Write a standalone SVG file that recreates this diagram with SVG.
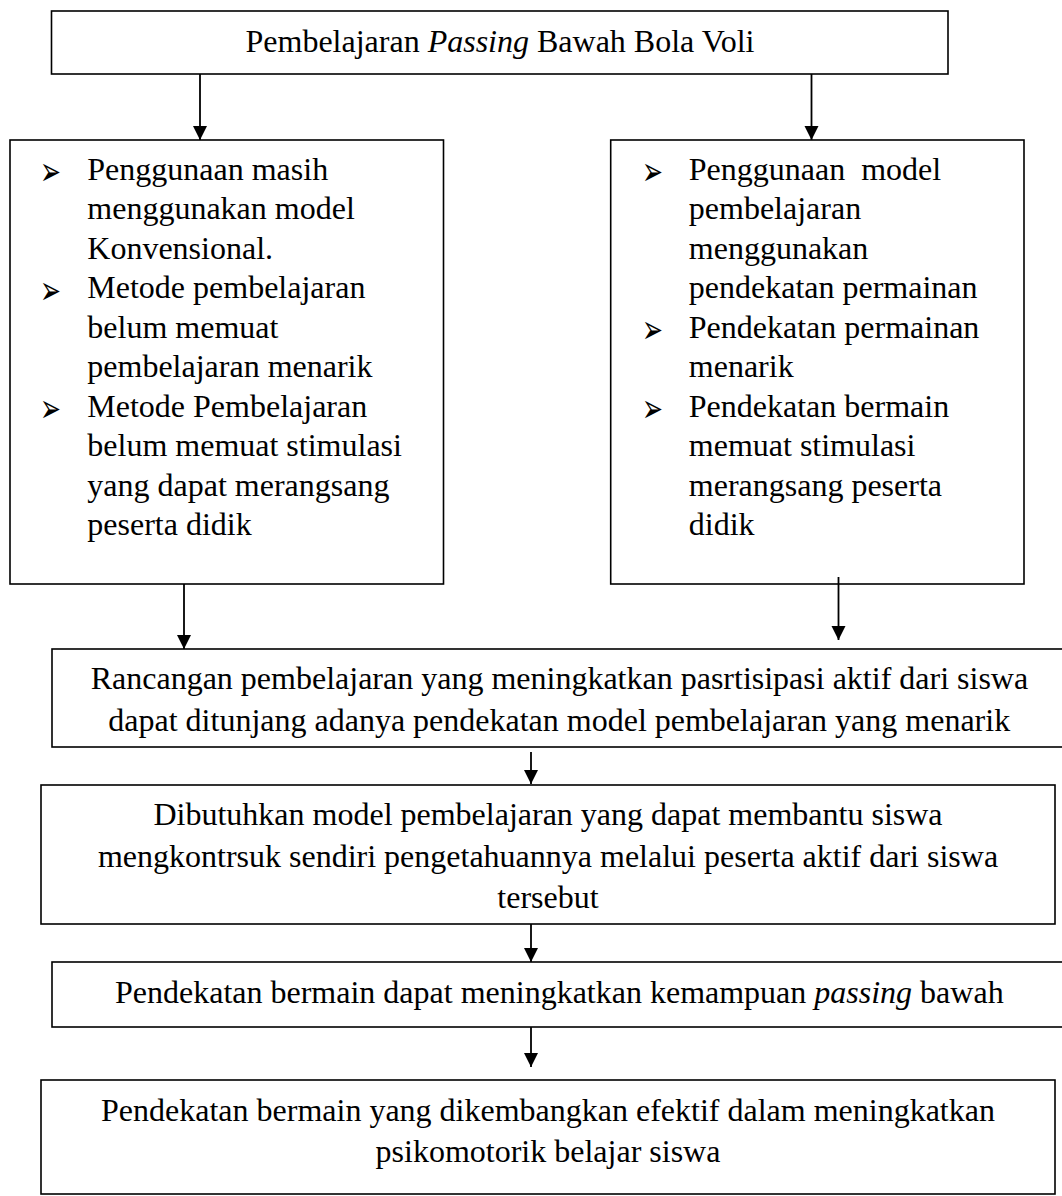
<svg xmlns="http://www.w3.org/2000/svg" width="1062" height="1196" viewBox="0 0 1062 1196">
<style>
.box{fill:#fff;stroke:#000;stroke-width:1.6}
.t{font-family:"Liberation Serif","Times New Roman",serif;font-size:32px;fill:#000}
.c{text-anchor:middle}
.b{font-family:"DejaVu Sans",sans-serif;font-size:25px;fill:#000}
.conn{stroke:#000;stroke-width:1.8;fill:none;marker-end:url(#ah)}
</style>
<defs>
<marker id="ah" markerUnits="userSpaceOnUse" markerWidth="14" markerHeight="15" refX="14" refY="7" orient="auto" viewBox="0 0 14 14">
<path d="M0,0 L14,7 L0,14 z" fill="#000"/>
</marker>
</defs>
<rect width="1062" height="1196" fill="#fff"/>

<g id="n-top">
<rect class="box" x="51.5" y="11" width="896.5" height="63"/>
<text class="t c" x="500" y="52">Pembelajaran <tspan font-style="italic">Passing</tspan> Bawah Bola Voli</text>
</g>

<g id="n-left">
<rect class="box" x="10" y="140" width="433.5" height="444"/>
<text class="b" transform="translate(40,185) scale(1,1.6)">➢</text>
<text class="t" x="87.3" y="179.5">Penggunaan masih</text>
<text class="t" x="87.3" y="219">menggunakan model</text>
<text class="t" x="87.3" y="258.5">Konvensional.</text>
<text class="b" transform="translate(40,303.5) scale(1,1.6)">➢</text>
<text class="t" x="87.3" y="298">Metode pembelajaran</text>
<text class="t" x="87.3" y="337.5">belum memuat</text>
<text class="t" x="87.3" y="377">pembelajaran menarik</text>
<text class="b" transform="translate(40,422) scale(1,1.6)">➢</text>
<text class="t" x="87.3" y="416.5">Metode Pembelajaran</text>
<text class="t" x="87.3" y="456">belum memuat stimulasi</text>
<text class="t" x="87.3" y="495.5">yang dapat merangsang</text>
<text class="t" x="87.3" y="535">peserta didik</text>
</g>

<g id="n-right">
<rect class="box" x="610.7" y="140" width="413.3" height="444"/>
<text class="b" transform="translate(642,185) scale(1,1.6)">➢</text>
<text class="t" x="688.8" y="179.5" style="white-space:pre">Penggunaan  model</text>
<text class="t" x="688.8" y="219">pembelajaran</text>
<text class="t" x="688.8" y="258.5">menggunakan</text>
<text class="t" x="688.8" y="298">pendekatan permainan</text>
<text class="b" transform="translate(642,343) scale(1,1.6)">➢</text>
<text class="t" x="688.8" y="337.5">Pendekatan permainan</text>
<text class="t" x="688.8" y="377">menarik</text>
<text class="b" transform="translate(642,422) scale(1,1.6)">➢</text>
<text class="t" x="688.8" y="416.5">Pendekatan bermain</text>
<text class="t" x="688.8" y="456">memuat stimulasi</text>
<text class="t" x="688.8" y="495.5">merangsang peserta</text>
<text class="t" x="688.8" y="535">didik</text>
</g>

<g id="n-rancangan">
<rect class="box" x="52" y="649" width="1014" height="98"/>
<text class="t" x="90.7" y="689.3">Rancangan pembelajaran yang meningkatkan pasrtisipasi aktif dari siswa</text>
<text class="t" x="108.3" y="730.7">dapat ditunjang adanya pendekatan model pembelajaran yang menarik</text>
</g>

<g id="n-dibutuhkan">
<rect class="box" x="41" y="785" width="1014" height="139"/>
<text class="t c" x="548" y="825">Dibutuhkan model pembelajaran yang dapat membantu siswa</text>
<text class="t c" x="548" y="866.5">mengkontrsuk sendiri pengetahuannya melalui peserta aktif dari siswa</text>
<text class="t c" x="548" y="908">tersebut</text>
</g>

<g id="n-passing">
<rect class="box" x="52" y="962" width="1014" height="65"/>
<text class="t" x="115" y="1003.3">Pendekatan bermain dapat meningkatkan kemampuan <tspan font-style="italic">passing</tspan> bawah</text>
</g>

<g id="n-efektif">
<rect class="box" x="41" y="1080" width="1014" height="114"/>
<text class="t c" x="548" y="1120.7">Pendekatan bermain yang dikembangkan efektif dalam meningkatkan</text>
<text class="t c" x="548" y="1162">psikomotorik belajar siswa</text>
</g>

<g id="connectors">
<line class="conn" x1="200" y1="74" x2="200" y2="140"/>
<line class="conn" x1="811.5" y1="74" x2="811.5" y2="140"/>
<line class="conn" x1="184" y1="584" x2="184" y2="649"/>
<line class="conn" x1="838.5" y1="577" x2="838.5" y2="640"/>
<line class="conn" x1="531" y1="752" x2="531" y2="784"/>
<line class="conn" x1="531" y1="924" x2="531" y2="962"/>
<line class="conn" x1="531" y1="1027" x2="531" y2="1067"/>
</g>
</svg>
